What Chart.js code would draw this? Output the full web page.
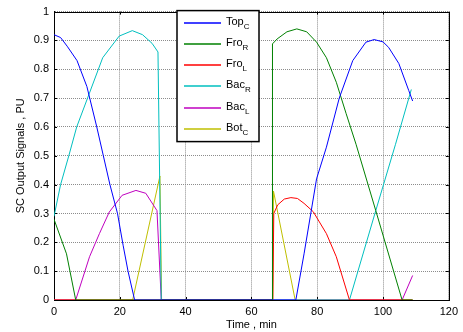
<!DOCTYPE html>
<html>
<head>
<meta charset="utf-8">
<script src="https://cdn.jsdelivr.net/npm/chart.js@4/dist/chart.umd.min.js"></script>
<style>
  body { margin: 0; background: #fff; }
  canvas { display: block; }
</style>
</head>
<body>
<canvas id="sinais" width="463" height="332"></canvas>
<script>
// valores (tempo em min, sinal em PU)
const topCTime = [0, 2, 4, 7, 10, 13, 15, 17, 19.3, 21, 22.5, 24.5, 66, 73.5, 76, 79.8, 82.8, 86.7, 90.8, 94.8, 97.3, 100, 101.7, 104.8, 107.8, 109];
const topCVals = [0.92, 0.91, 0.88, 0.83, 0.74, 0.60, 0.50, 0.40, 0.30, 0.19, 0.10, 0, 0, 0, 0.16, 0.42, 0.53, 0.70, 0.83, 0.894, 0.903, 0.895, 0.876, 0.82, 0.727, 0.69];

const froRTime = [0, 3.8, 6.6, 66.3, 66.4, 67.8, 70.8, 73.8, 76.8, 79.8, 82.8, 85.8, 88.8, 91.8, 97.8, 105.8, 109];
const froRVals = [0.28, 0.16, 0, 0, 0.888, 0.905, 0.93, 0.94, 0.93, 0.894, 0.84, 0.755, 0.646, 0.54, 0.31, 0, 0];

const froLTime = [0, 66.5, 66.8, 68, 70, 72, 74, 76, 78.8, 82.8, 85.8, 89.8, 109];
const froLVals = [0, 0, 0.30, 0.33, 0.35, 0.355, 0.352, 0.335, 0.306, 0.23, 0.15, 0, 0];

const bacRTime = [0, 2, 4.5, 6.9, 10.2, 14.8, 19.8, 23.8, 26.9, 29.8, 31.6, 32.6, 89.8, 97.8, 103.8, 108.6];
const bacRVals = [0.29, 0.40, 0.50, 0.60, 0.70, 0.84, 0.915, 0.934, 0.92, 0.89, 0.86, 0, 0, 0.31, 0.54, 0.73];

const bacLTime = [0, 6.6, 10.8, 13.8, 16.8, 20.7, 24.9, 27.9, 31.3, 32.6, 105.8, 109];
const bacLVals = [0, 0, 0.15, 0.23, 0.305, 0.363, 0.38, 0.37, 0.31, 0, 0, 0.085];

const botCTime = [0, 23.9, 32.2, 32.7, 66.5, 66.7, 73.3, 109];
const botCVals = [0, 0, 0.43, 0, 0, 0.378, 0, 0];

const nomes = ["Top", "Fro", "Fro", "Bac", "Bac", "Bot"];
const indices = ["C", "R", "L", "R", "L", "C"];
const cores = ["#0000ff", "#008000", "#ff0000", "#00bfbf", "#bf00bf", "#bfbf00"];

const xTicks = [0, 20, 40, 60, 80, 100, 120];
const yTickLabels = ["0", "0.1", "0.2", "0.3", "0.4", "0.5", "0.6", "0.7", "0.8", "0.9", "1"];

const series = [
  [topCTime, topCVals],
  [froRTime, froRVals],
  [froLTime, froLVals],
  [bacRTime, bacRVals],
  [bacLTime, bacLVals],
  [botCTime, botCVals],
];

const fonte = { family: "'Liberation Sans', Arial, sans-serif", size: 11 };

const datasets = series.map((s, i) => ({
  label: nomes[i] + indices[i],
  data: s[0].map((t, k) => ({ x: t, y: s[1][k] })),
  borderColor: cores[i],
  borderWidth: 1,
  pointRadius: 0,
  tension: 0,
  fill: false,
}));

// caixa do eixo + marcas internas (antes das linhas) e legenda com subscrito (depois)
const moldura = {
  id: "moldura",
  beforeDatasetsDraw(chart) {
    const ctx = chart.ctx;
    const a = chart.chartArea;
    const sx = chart.scales.x;
    const sy = chart.scales.y;
    ctx.save();
    ctx.strokeStyle = "#000";
    ctx.lineWidth = 1;
    ctx.beginPath();
    xTicks.forEach((v) => {
      const px = Math.round(sx.getPixelForValue(v)) + 0.5;
      ctx.moveTo(px, a.bottom); ctx.lineTo(px, a.bottom - 3);
      ctx.moveTo(px, a.top); ctx.lineTo(px, a.top + 3);
    });
    yTickLabels.forEach((l, i) => {
      const py = Math.round(sy.getPixelForValue(i / 10)) + 0.5;
      ctx.moveTo(a.left, py); ctx.lineTo(a.left + 3, py);
      ctx.moveTo(a.right, py); ctx.lineTo(a.right - 3, py);
    });
    ctx.stroke();
    ctx.strokeRect(Math.round(a.left) + 0.5, Math.round(a.top) + 0.5, Math.round(a.right - a.left), Math.round(a.bottom - a.top));
    ctx.restore();
  },
  afterDraw(chart) {
    const ctx = chart.ctx;
    const a = chart.chartArea;
    const bx = a.left + 123;
    const by = a.top - 1;
    const bw = 82;
    const bh = 131;
    ctx.save();
    ctx.fillStyle = "#fff";
    ctx.fillRect(bx, by, bw, bh);
    ctx.strokeStyle = "#000";
    ctx.lineWidth = 1.5;
    ctx.strokeRect(bx, by, bw, bh);
    ctx.textBaseline = "middle";
    ctx.textAlign = "left";
    nomes.forEach((n, i) => {
      const cy = Math.round(by + 12.5 + i * 21.1);
      ctx.strokeStyle = cores[i];
      ctx.lineWidth = 1.5;
      ctx.beginPath();
      ctx.moveTo(bx + 7, cy);
      ctx.lineTo(bx + 44, cy);
      ctx.stroke();
      ctx.fillStyle = "#000";
      ctx.font = "11px 'Liberation Sans', Arial, sans-serif";
      ctx.fillText(n, bx + 49, cy - 1);
      const w = ctx.measureText(n).width;
      ctx.font = "8px 'Liberation Sans', Arial, sans-serif";
      ctx.fillText(indices[i], bx + 49 + w, cy + 4);
    });
    ctx.restore();
  },
};

new Chart(document.getElementById("sinais").getContext("2d"), {
  type: "line",
  data: { datasets: datasets },
  options: {
    responsive: false,
    animation: false,
    devicePixelRatio: 1,
    layout: { padding: { top: 11, right: 9, left: 0, bottom: 0 } },
    plugins: {
      legend: { display: false },
      tooltip: { enabled: false },
    },
    scales: {
      x: {
        type: "linear",
        min: 0,
        max: 120,
        afterBuildTicks: (scale) => {
          scale.ticks = xTicks.map((v) => ({ value: v }));
        },
        afterFit: (scale) => { scale.height = 32; },
        ticks: { color: "#000", font: fonte, padding: 5, maxRotation: 0 },
        grid: { color: "#8c8c8c", drawTicks: false },
        border: { display: true, color: "#000", dash: [1, 1] },
        title: { display: true, text: "Time , min", color: "#000", font: fonte, padding: { top: 0, bottom: 0 } },
      },
      y: {
        type: "linear",
        min: 0,
        max: 1,
        afterBuildTicks: (scale) => {
          scale.ticks = yTickLabels.map((l, i) => ({ value: i / 10 }));
        },
        afterFit: (scale) => { scale.width = 54; },
        ticks: {
          color: "#000",
          font: fonte,
          padding: 5,
          callback: (v, i) => yTickLabels[i],
        },
        grid: { color: "#8c8c8c", drawTicks: false },
        border: { display: true, color: "#000", dash: [1, 1] },
        title: { display: true, text: "SC Output Signals , PU", color: "#000", font: fonte, padding: { top: 14, bottom: 0 } },
      },
    },
  },
  plugins: [moldura],
});
</script>
</body>
</html>
